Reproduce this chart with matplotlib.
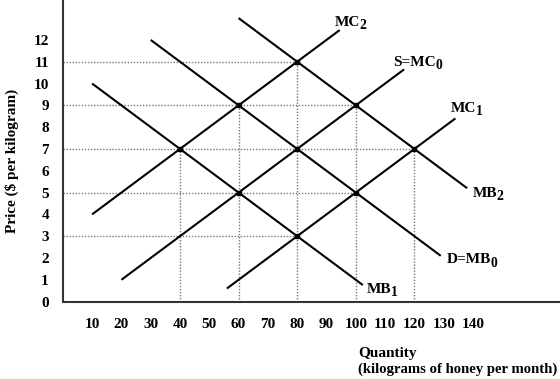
import matplotlib
matplotlib.use("Agg")
from matplotlib import pyplot as plt

plt.rcParams['font.family'] = 'Liberation Serif'
plt.rcParams['font.weight'] = 'bold'

# Axis ticks
q_ticks = [10, 20, 30, 40, 50, 60, 70, 80, 90, 100, 110, 120, 130, 140]
p_ticks = [0, 1, 2, 3, 4, 5, 6, 7, 8, 9, 10, 11, 12]

# Curves (end points, quantity / price)
curve_names = ['MC', 'S=MC', 'MC', 'MB', 'D=MB', 'MB']
curve_subs = ['2', '0', '1', '1', '0', '2']
curve_q = [(10, 94.5), (20, 116.5), (56, 134), (10, 102.4), (30, 129), (60, 138)]
curve_p = [(4, 12.45), (1, 10.65), (0.6, 8.4), (10, 0.76), (12, 2.1), (13, 5.2)]
label_q = [92.9, 112.7, 132.5, 103.8, 131.1, 139.9]
label_p = [12.66, 10.82, 8.71, 0.41, 1.76, 4.81]

# Equilibrium points
eq_q = [40, 60, 80, 60, 80, 100, 80, 100, 120]
eq_p = [7, 9, 11, 5, 7, 9, 3, 5, 7]

# Dotted guides
h_levels = [11, 9, 7, 5, 3]
h_ends = [80, 100, 120, 100, 80]
v_levels = [40, 60, 80, 100, 120]
v_ends = [7, 9, 11, 9, 7]

fig = plt.figure(figsize=(5.6, 3.79), dpi=100)
ax = fig.add_axes([62.8/560, 1 - 301.6/379, 1 - 62.8/560, 301.6/379])
ax.set_xlim(0, 169.7)
ax.set_ylim(0, 13.83)

for p, qe in zip(h_levels, h_ends):
    ax.plot([0, qe], [p, p], ls=(0, (1, 1.2)), color='#777777', lw=1)
for q, pe in zip(v_levels, v_ends):
    ax.plot([q, q], [0, pe], ls=(0, (1, 1.2)), color='#777777', lw=1)

for name, sub, qs, ps, lq, lp in zip(curve_names, curve_subs, curve_q, curve_p,
                                     label_q, label_p):
    ax.plot(qs, ps, color='black', lw=1.5, solid_capstyle='butt')
    t = ax.text(lq, lp, name, fontsize=11, ha='left', va='baseline')
    ax.annotate(sub, xy=(1, 0), xycoords=t, xytext=(-0.4, -2.6),
                textcoords='offset points', fontsize=9.8, ha='left', va='bottom')

ax.plot(eq_q, eq_p, 's', color='black', ms=3.5, ls='none')

for s in ('top', 'right'):
    ax.spines[s].set_visible(False)
for s in ('left', 'bottom'):
    ax.spines[s].set_linewidth(1.5)
    ax.spines[s].set_color('#333333')

ax.set_xticks(q_ticks)
ax.set_xticklabels([str(v) for v in q_ticks])
ax.set_yticks(p_ticks)
ax.set_yticklabels([str(v) for v in p_ticks])
ax.tick_params(axis='x', length=0, pad=12, labelsize=11)
ax.tick_params(axis='y', length=0, pad=10, labelsize=11)

fig.text(358/560, 1 - 356.7/379, 'Quantity', fontsize=11, ha='left', va='baseline')
fig.text(358/560, 1 - 373/379, '(kilograms of honey per month)', fontsize=10.6,
         ha='left', va='baseline')
fig.text(12/560, 1 - 161/379, 'Price ($ per kilogram)', fontsize=11,
         rotation=90, ha='center', va='center')

fig.savefig('out.png', dpi=100)
